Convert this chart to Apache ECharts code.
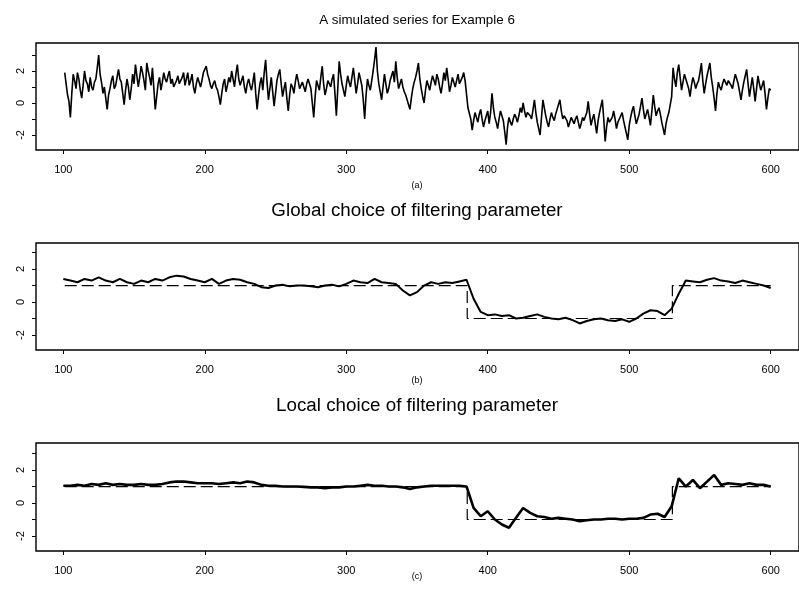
<!DOCTYPE html>
<html>
<head>
<meta charset="utf-8">
<script src="https://cdn.jsdelivr.net/npm/echarts@6/dist/echarts.min.js"></script>
<style>
html,body{margin:0;padding:0;background:#fff;}
#main{width:799px;height:599px;}
</style>
</head>
<body>
<div id="main"></div>
<script>
// ---- Data ----
const titles = ["A simulated series for Example 6", "Global choice of filtering parameter", "Local choice of filtering parameter"];
const captions = ["(a)", "(b)", "(c)"];
const xTicks = [100, 200, 300, 400, 500, 600];
const yTicks = [-2, -1, 0, 1, 2, 3];
const yLabels = [-2, 0, 2];

// Panel (a): simulated series, t = 101 ... 600
const rawStart = 101, rawStep = 1;
const rawSeries = [
  1.9, 1.2, 0.5, 0.1, -0.9, 0.6, 1.8, 1.4, 0.9, 1.9, 1.5, 0.8, 0.3, 1.1, 2.0, 1.4, 1.2, 0.7, 1.6, 1.0,
  0.8, 1.3, 1.5, 2.2, 3.0, 1.8, 1.3, 0.6, 1.0, 0.3, -0.4, 0.5, 0.9, 1.4, 1.7, 0.9, 1.1, 1.6, 2.1, 1.5,
  1.3, 0.6, -0.1, 0.8, 1.5, 1.0, 0.2, 0.9, 1.8, 1.2, 2.4, 1.7, 1.0, 1.6, 2.3, 1.9, 1.4, 0.8, 2.5, 2.0,
  1.6, 1.1, 2.2, 0.9, -0.4, 0.4, 1.2, 1.6, 0.8, 1.3, 1.9, 1.5, 1.3, 1.7, 2.0, 1.2, 1.5, 1.0, 0.9, 1.4,
  1.7, 1.2, 1.3, 1.6, 1.9, 1.1, 1.5, 1.9, 1.1, 1.4, 1.8, 1.0, 0.6, 1.2, 1.6, 1.3, 1.0, 1.4, 1.9, 2.1,
  2.3, 1.8, 1.5, 1.1, 0.9, 1.2, 1.4, 1.0, 0.8, 0.4, -0.1, 0.6, 1.2, 1.5, 0.7, 1.1, 1.6, 1.3, 2.0, 1.5,
  1.0, 1.8, 2.4, 1.5, 1.1, 1.4, 1.7, 1.0, 0.6, 1.2, 1.5, 1.1, 0.8, 1.3, 1.9, 0.6, -0.4, 0.5, 1.2, 1.6,
  0.8, 1.9, 2.7, 1.3, 0.2, 0.9, 1.6, 0.7, -0.2, 0.6, 1.4, 1.8, 2.1, 1.2, 0.4, 0.9, 1.3, 0.3, -0.5, 0.5,
  1.2, 1.0, 0.6, 1.3, 1.8, 1.4, 0.9, 1.1, 1.3, 1.0, 0.7, 1.2, 1.5, 1.2, 0.9, 0.0, -0.9, 0.4, 1.4, 1.1,
  0.8, 1.6, 2.3, 1.2, 0.5, 0.9, 1.4, 1.2, 1.0, 1.5, 1.8, 0.6, -0.8, 0.9, 2.6, 1.8, 1.2, 0.8, 0.4, 1.1,
  1.7, 1.3, 1.0, 1.6, 2.2, 1.4, 0.6, 1.2, 1.9, 1.5, 1.1, 0.2, -1.0, 0.5, 1.5, 1.1, 0.8, 1.4, 2.0, 2.7,
  3.5, 2.0, 1.2, 0.7, 0.2, 1.0, 1.8, 1.2, 0.6, 0.9, 1.4, 1.7, 2.0, 1.3, 2.6, 1.6, 0.9, 1.2, 1.5, 1.0,
  0.7, 0.5, 0.2, 0.1, -0.4, 0.3, 0.9, 1.3, 1.6, 2.0, 2.5, 1.5, 0.9, 0.4, 0.0, 0.8, 1.4, 1.1, 0.8, 1.3,
  1.7, 1.4, 1.1, 1.8, 1.5, 1.0, 0.6, 1.2, 1.9, 1.4, 2.2, 1.5, 0.7, 1.1, 1.6, 1.3, 1.0, 1.4, 1.8, 1.2,
  1.3, 1.6, 1.9, 1.4, 1.5, -0.3,
  -0.2, -1.0, -1.7, -1.1, -0.6, -0.9, -1.2, -0.7, -0.4, -1.0, -1.5, -1.1, -0.8, -0.5, -1.3, -0.6, 0.6, -0.3, -0.9, -1.2,
  -1.6, -1.0, -0.5, -0.8, -1.1, -1.8, -2.6, -1.5, -0.9, -1.2, -1.4, -1.0, -0.7, -0.9, -1.2, -0.8, -0.3, -0.6, 0.0, -0.5,
  -0.9, -0.6, -0.5, -0.8, -1.0, -0.4, 0.2, -0.6, -1.2, -1.6, -2.0, -0.9, 0.2, -0.3, -0.8, -1.2, -1.5, -1.0, -0.6, -0.9,
  -1.1, -0.7, -0.4, -0.1, 0.2, -0.5, -1.0, -0.8, -0.7, -1.1, -1.5, -1.2, -0.9, -1.1, -1.3, -1.0, -0.8, -1.2, -1.6, -1.3,
  -0.9, -1.1, -1.2, -0.6, 0.1, -0.7, -1.4, -1.0, -0.7, -1.3, -1.9, -1.1, -0.6, -0.2, 0.2, -1.0, -2.4, -1.5, -0.9, -1.2,
  -1.3, -0.9, -0.5, -1.0, -1.6, -1.2, -1.0, -0.8, -0.6, -1.1, -1.5, -1.9, -2.3, -1.4, -0.9, -0.5, -0.2, -0.8, -1.3, -1.0,
  -0.7, -0.2, 0.3, -0.4, -1.0, -0.7, -0.4, -0.9, -1.4, -0.5, 0.5, -0.2, -0.8, -0.5, -0.3, -0.7, -1.2, -1.6, -2.0, -1.3,
  -0.9, -0.6, -0.5, 0.4,
  2.2, 1.5, 1.0, 1.9, 2.4, 1.6, 0.8, 1.3, 1.8, 1.5, 1.2, 0.9, 0.4, 1.1, 1.6, 1.3, 0.9, 1.2, 1.4, 1.9,
  2.5, 1.4, 0.6, 1.2, 1.7, 2.1, 2.5, 1.6, 1.0, 0.3, -0.5, 0.6, 1.3, 1.0, 0.8, 1.2, 1.5, 1.3, 1.1, 1.4,
  1.4, 1.1, 0.9, 1.4, 1.8, 1.5, 1.2, 0.7, 0.2, 0.8, 1.3, 1.7, 2.1, 1.2, 0.4, 1.0, 1.6, 0.9, 0.1, 0.9,
  1.7, 1.2, 0.8, 1.1, 1.4, 0.6, -0.4, 0.3, 0.9, 0.8
];

// Smoothed estimates, sampled every 5 time steps from t = 100
const smoothStart = 100, smoothStep = 5;
const globalFit = [
  1.4, 1.3, 1.2, 1.4, 1.3, 1.5, 1.3, 1.2, 1.4, 1.2,
  1.1, 1.3, 1.2, 1.4, 1.3, 1.5, 1.6, 1.55, 1.4, 1.3,
  1.2, 1.4, 1.1, 1.3, 1.4, 1.35, 1.2, 1.1, 0.9, 0.85,
  1.0, 1.05, 0.95, 1.0, 1.0, 0.95, 0.9, 1.0, 1.05, 0.95,
  1.1, 1.3, 1.2, 1.15, 1.4, 1.2, 1.15, 1.1, 0.7, 0.4,
  0.6, 1.0, 1.2, 1.1, 1.2, 1.15, 1.25, 1.35, 0.2, -0.6,
  -0.8, -0.75, -0.85, -0.8, -1.0, -0.95, -0.85, -0.75, -0.9, -1.0,
  -1.05, -0.95, -1.1, -1.3, -1.15, -1.05, -1.0, -1.1, -1.15, -1.05,
  -1.2, -1.0, -0.7, -0.5, -0.55, -0.8, -0.4, 0.5, 1.3, 1.25,
  1.2, 1.35, 1.45, 1.3, 1.25, 1.15, 1.3, 1.2, 1.1, 1.0, 0.85
];
const localFit = [
  1.05, 1.05, 1.1, 1.05, 1.15, 1.1, 1.2, 1.1, 1.15, 1.1,
  1.1, 1.15, 1.1, 1.1, 1.15, 1.25, 1.3, 1.3, 1.25, 1.2,
  1.2, 1.2, 1.15, 1.2, 1.25, 1.2, 1.3, 1.25, 1.1, 1.05,
  1.05, 1.0, 1.0, 1.0, 0.98, 0.95, 0.95, 0.9, 0.95, 0.95,
  1.0, 1.0, 1.05, 1.1, 1.05, 1.05, 1.0, 1.0, 0.95, 0.85,
  0.95, 1.0, 1.05, 1.05, 1.05, 1.05, 1.05, 1.0, -0.3, -0.8,
  -0.5, -1.0, -1.3, -1.5, -0.9, -0.3, -0.6, -0.8, -0.85, -0.95,
  -0.9, -0.95, -1.0, -1.1, -1.05, -1.0, -1.0, -0.95, -0.95, -1.0,
  -0.95, -0.95, -0.9, -0.7, -0.65, -0.85, -0.2, 1.5, 1.0, 1.4,
  0.9, 1.3, 1.7, 1.1, 1.2, 1.15, 1.1, 1.2, 1.1, 1.1, 1.0
];

// True mean (step function)
const stepT = [101, 385.5, 385.5, 530.5, 530.5, 600];
const stepV = [1, 1, -1, -1, 1, 1];

// ---- Build ----
const pairs = (vals, start, step) => vals.map((v, i) => [start + i * step, v]);
const stepData = stepT.map((t, i) => [t, stepV[i]]);

const grids = [
  { left: 36, right: -7, top: 43, height: 107, yMin: -2.94, yMax: 3.75 },
  { left: 36, right: -7, top: 243, height: 107, yMin: -2.91, yMax: 3.58 },
  { left: 36, right: -7, top: 443, height: 108, yMin: -2.91, yMax: 3.64 }
];
const titleY = [20, 211, 406];
const titleSize = [13.4, 18.8, 18.8];
const capY = [186, 381, 577];

const font = "'Liberation Sans', Arial, Helvetica, sans-serif";

const option = {
  animation: false,
  backgroundColor: '#ffffff',
  grid: grids.map(g => ({
    left: g.left, right: g.right, top: g.top, height: g.height,
    show: true, borderColor: '#000', borderWidth: 1.4, backgroundColor: 'transparent'
  })),
  xAxis: grids.map((g, i) => ({
    type: 'value', gridIndex: i, min: 80.7, max: 620,
    axisLine: { show: false, onZero: false },
    axisTick: { show: true, inside: false, length: 4, customValues: xTicks, lineStyle: { color: '#000' } },
    axisLabel: { show: true, customValues: xTicks, margin: 14, fontSize: 11, color: '#000', fontFamily: font },
    splitLine: { show: false }
  })),
  yAxis: grids.map((g, i) => ({
    type: 'value', gridIndex: i, min: g.yMin, max: g.yMax,
    axisLine: { show: false, onZero: false },
    axisTick: { show: true, inside: false, length: 4, customValues: yTicks, lineStyle: { color: '#000' } },
    axisLabel: { show: true, customValues: yLabels, rotate: 90, margin: 10, fontSize: 11, color: '#000', fontFamily: font },
    splitLine: { show: false }
  })),
  graphic: [
    ...titles.map((t, i) => ({
      type: 'text', x: 417, y: titleY[i],
      style: { text: t, fill: '#000', font: titleSize[i] + 'px ' + font, textAlign: 'center', textVerticalAlign: 'middle' }
    })),
    ...captions.map((c, i) => ({
      type: 'text', x: 417, y: capY[i],
      style: { text: c, fill: '#000', font: '9px ' + font, textAlign: 'center', textVerticalAlign: 'middle' }
    }))
  ],
  series: [
    { type: 'line', xAxisIndex: 0, yAxisIndex: 0, data: pairs(rawSeries, rawStart, rawStep),
      showSymbol: false, symbol: 'none', lineStyle: { color: '#000', width: 1.6 } },
    { type: 'line', xAxisIndex: 1, yAxisIndex: 1, data: stepData,
      showSymbol: false, symbol: 'none', lineStyle: { color: '#000', width: 1.2, type: [12, 5] } },
    { type: 'line', xAxisIndex: 1, yAxisIndex: 1, data: pairs(globalFit, smoothStart, smoothStep),
      showSymbol: false, symbol: 'none', lineStyle: { color: '#000', width: 2 } },
    { type: 'line', xAxisIndex: 2, yAxisIndex: 2, data: stepData,
      showSymbol: false, symbol: 'none', lineStyle: { color: '#000', width: 1.2, type: [12, 5] } },
    { type: 'line', xAxisIndex: 2, yAxisIndex: 2, data: pairs(localFit, smoothStart, smoothStep),
      showSymbol: false, symbol: 'none', lineStyle: { color: '#000', width: 2.6 } }
  ]
};

const chart = echarts.init(document.getElementById('main'), null, { renderer: 'canvas' });
chart.setOption(option);
</script>
</body>
</html>
